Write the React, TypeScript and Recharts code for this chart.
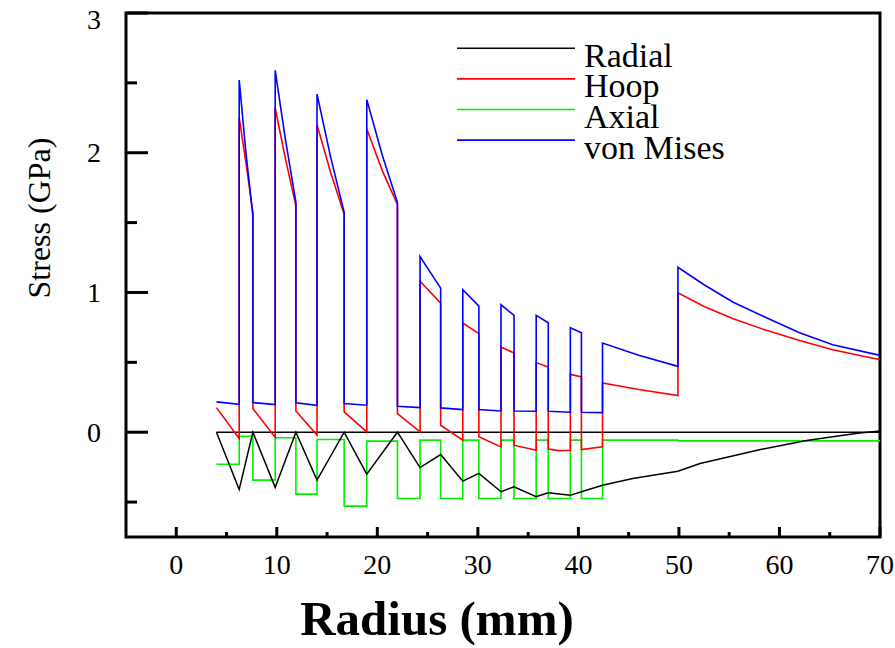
import React from 'react';
import {
  LineChart, Line, XAxis, YAxis, ReferenceArea, ReferenceLine, Legend,
} from 'recharts';

// [radius mm, stress GPa]; repeated radii are the jumps at layer interfaces
const radial: [number, number][] = [
  [4.0, 0], [6.26, -0.41], [7.62, 0], [9.84, -0.395], [11.9, 0], [14.0, -0.343],
  [16.7, 0], [18.95, -0.3], [22.0, 0], [24.25, -0.253], [26.3, -0.16], [28.5, -0.35],
  [30.1, -0.295], [32.3, -0.426], [33.6, -0.39], [35.8, -0.462], [37.0, -0.433],
  [39.2, -0.452], [40.3, -0.426], [42.4, -0.379], [45.4, -0.331], [49.9, -0.279],
  [52.1, -0.224], [55.0, -0.175], [58.0, -0.125], [62.7, -0.06], [66.0, -0.025],
  [68.0, -0.005], [70.0, 0.008],
];

const hoop: [number, number][] = [
  [4.0, 0.176], [6.26, -0.045], [6.26, 2.25], [6.93, 1.93], [7.62, 1.57],
  [7.62, 0.169], [9.84, -0.038], [9.84, 2.32], [10.85, 1.96], [11.9, 1.62],
  [11.9, 0.152], [14.0, -0.021], [14.0, 2.2], [15.35, 1.86], [16.7, 1.56],
  [16.7, 0.145], [18.95, 0.002], [18.95, 2.17], [20.5, 1.87], [22.0, 1.63],
  [22.0, 0.133], [24.25, 0.002], [24.25, 1.081], [26.3, 0.924],
  [26.3, 0.05], [28.5, -0.057], [28.5, 0.781], [30.1, 0.705],
  [30.1, -0.033], [32.3, -0.105], [32.3, 0.609], [33.6, 0.567],
  [33.6, -0.093], [35.8, -0.129], [35.8, 0.498], [37.0, 0.467],
  [37.0, -0.121], [38.1, -0.132], [39.2, -0.129], [39.2, 0.414], [40.3, 0.395],
  [40.3, -0.124], [42.4, -0.105], [42.4, 0.352], [46.0, 0.305], [49.9, 0.262],
  [49.9, 0.998], [52.5, 0.9], [55.4, 0.812], [58.7, 0.729], [62.0, 0.657],
  [65.3, 0.59], [70.0, 0.519],
];

// step values: stress at the start of each layer
const axial: [number, number][] = [
  [4.0, -0.229], [6.26, -0.029], [7.62, -0.343], [9.84, -0.04], [11.9, -0.443],
  [14.0, -0.052], [16.7, -0.529], [18.95, -0.064], [22.0, -0.474], [24.25, -0.057],
  [26.3, -0.474], [28.5, -0.057], [30.1, -0.474], [32.3, -0.057], [33.6, -0.474],
  [35.8, -0.057], [37.0, -0.474], [39.2, -0.057], [40.3, -0.474], [42.4, -0.057],
  [49.9, -0.062], [70.0, -0.062],
];

const vonMises: [number, number][] = [
  [4.0, 0.217], [6.26, 0.2], [6.26, 2.52], [6.93, 2.0], [7.62, 1.55],
  [7.62, 0.212], [9.84, 0.198], [9.84, 2.59], [10.85, 2.1], [11.9, 1.645],
  [11.9, 0.21], [14.0, 0.193], [14.0, 2.42], [15.35, 1.97], [16.7, 1.574],
  [16.7, 0.205], [18.95, 0.193], [18.95, 2.38], [20.5, 1.98], [22.0, 1.645],
  [22.0, 0.186], [24.25, 0.176], [24.25, 1.257], [26.3, 1.031],
  [26.3, 0.174], [28.5, 0.162], [28.5, 1.019], [30.1, 0.902],
  [30.1, 0.162], [32.3, 0.152], [32.3, 0.912], [33.6, 0.836],
  [33.6, 0.152], [35.8, 0.15], [35.8, 0.836], [37.0, 0.783],
  [37.0, 0.15], [39.2, 0.143], [39.2, 0.748], [40.3, 0.712],
  [40.3, 0.143], [42.4, 0.14], [42.4, 0.638], [46.0, 0.55], [49.9, 0.471],
  [49.9, 1.18], [52.5, 1.055], [55.4, 0.93], [58.7, 0.819], [62.0, 0.712],
  [65.3, 0.626], [70.0, 0.55],
];

const xTicks = [0, 5, 10, 15, 20, 25, 30, 35, 40, 45, 50, 55, 60, 65, 70];
const yTicks = [-0.5, 0, 0.5, 1, 1.5, 2, 2.5, 3];

const legendItems = [
  { name: 'Radial', color: '#000000' },
  { name: 'Hoop', color: '#ff0000' },
  { name: 'Axial', color: '#00ee00' },
  { name: 'von Mises', color: '#0000ff' },
];

const FONT = '"Liberation Serif", "Times New Roman", serif';

const toRows = (pts: [number, number][]) => pts.map(([r, s]) => ({ r, s }));

// ticks point inward; tickSize/tickMargin are 0 so x,y arrive on the axis line
const BottomTick = ({ x, y, payload }: any) => {
  const major = payload.value % 10 === 0;
  return (
    <g>
      <line x1={x} x2={x} y1={y} y2={y - (major ? 10 : 5)} stroke="#000" strokeWidth={3} />
      {major && (
        <text x={x} y={y + 37} textAnchor="middle" fontSize={28} style={{ fontFamily: FONT }} fill="#000">
          {payload.value}
        </text>
      )}
    </g>
  );
};

const TopTick = ({ x, y, payload }: any) => {
  const major = payload.value % 10 === 0;
  return <line x1={x} x2={x} y1={y} y2={y + (major ? 9 : 4)} stroke="#000" strokeWidth={3} />;
};

const LeftTick = ({ x, y, payload }: any) => {
  const major = Number.isInteger(payload.value);
  return (
    <g>
      <line x1={x} x2={x + (major ? 22 : 11)} y1={y} y2={y} stroke="#000" strokeWidth={3} />
      {major && (
        <text x={x - 25} y={Math.max(y + 9.5, 29)} textAnchor="end" fontSize={28}
          style={{ fontFamily: FONT }} fill="#000">
          {payload.value}
        </text>
      )}
    </g>
  );
};

const RightTick = ({ x, y, payload }: any) => {
  const major = Number.isInteger(payload.value);
  return <line x1={x} x2={x - (major ? 20 : 11)} y1={y} y2={y} stroke="#000" strokeWidth={3} />;
};

const renderLegend = () => (
  <svg width={330} height={140} style={{ display: 'block', overflow: 'visible' }}>
    {legendItems.map((it, i) => {
      const ly = 18.3 + i * 30.6;
      return (
        <g key={it.name}>
          <line x1={17} x2={135} y1={ly} y2={ly} stroke={it.color} strokeWidth={1.6} />
          <text x={144} y={ly + 18.5} fontSize={34} style={{ fontFamily: FONT }} fill="#000">{it.name}</text>
        </g>
      );
    })}
  </svg>
);

export default function App() {
  return (
    <div style={{ position: 'absolute', left: 0, top: 0, background: '#fff' }}>
      <LineChart width={895} height={648} margin={{ top: 0, right: 0, bottom: 0, left: 0 }}>
        <XAxis
          dataKey="r" type="number" domain={[-5, 70]} ticks={xTicks} interval={0}
          height={111} tickSize={0} tickMargin={0} axisLine={false} tickLine={false}
          tick={<BottomTick />}
          label={({ viewBox }: any) => (
            <text x={437} y={viewBox.y + 98} textAnchor="middle" fontSize={49}
              fontWeight="bold" style={{ fontFamily: FONT }} fill="#000">Radius (mm)</text>
          )}
        />
        <XAxis
          xAxisId="top" orientation="top" dataKey="r" type="number" domain={[-5, 70]}
          ticks={xTicks} interval={0} height={13} tickSize={0} tickMargin={0}
          axisLine={false} tickLine={false} tick={<TopTick />}
        />
        <YAxis
          type="number" domain={[-0.75, 3]} ticks={yTicks} interval={0} width={126}
          tickSize={0} tickMargin={0} axisLine={false} tickLine={false} tick={<LeftTick />}
          label={() => (
            <text x={50} y={218} transform="rotate(-90, 50, 218)" textAnchor="middle"
              fontSize={32} style={{ fontFamily: FONT }} fill="#000">Stress (GPa)</text>
          )}
        />
        <YAxis
          yAxisId="right" orientation="right" type="number" domain={[-0.75, 3]} ticks={yTicks}
          interval={0} width={15} tickSize={0} tickMargin={0} axisLine={false} tickLine={false}
          tick={<RightTick />}
        />
        <ReferenceLine segment={[{ x: 4.0, y: 0 }, { x: 70, y: 0 }]} stroke="#000" strokeWidth={1.5} />
        <Line data={toRows(axial)} dataKey="s" name="Axial" type="stepAfter" stroke="#00ee00"
          strokeWidth={1.6} dot={false} isAnimationActive={false} />
        <Line data={toRows(radial)} dataKey="s" name="Radial" type="linear" stroke="#000000"
          strokeWidth={1.5} dot={false} isAnimationActive={false} />
        <Line data={toRows(hoop)} dataKey="s" name="Hoop" type="linear" stroke="#ff0000"
          strokeWidth={1.6} dot={false} isAnimationActive={false} />
        <Line data={toRows(vonMises)} dataKey="s" name="von Mises" type="linear" stroke="#0000ff"
          strokeWidth={1.6} dot={false} isAnimationActive={false} />
        <ReferenceArea x1={-5} x2={70} y1={-0.75} y2={3} fill="none" stroke="#000"
          strokeWidth={3} fillOpacity={0} ifOverflow="visible" />
        <Legend layout="vertical" align="center" verticalAlign="middle" content={renderLegend}
          wrapperStyle={{ left: 440, top: 30, width: 330, height: 140 }} />
      </LineChart>
    </div>
  );
}
